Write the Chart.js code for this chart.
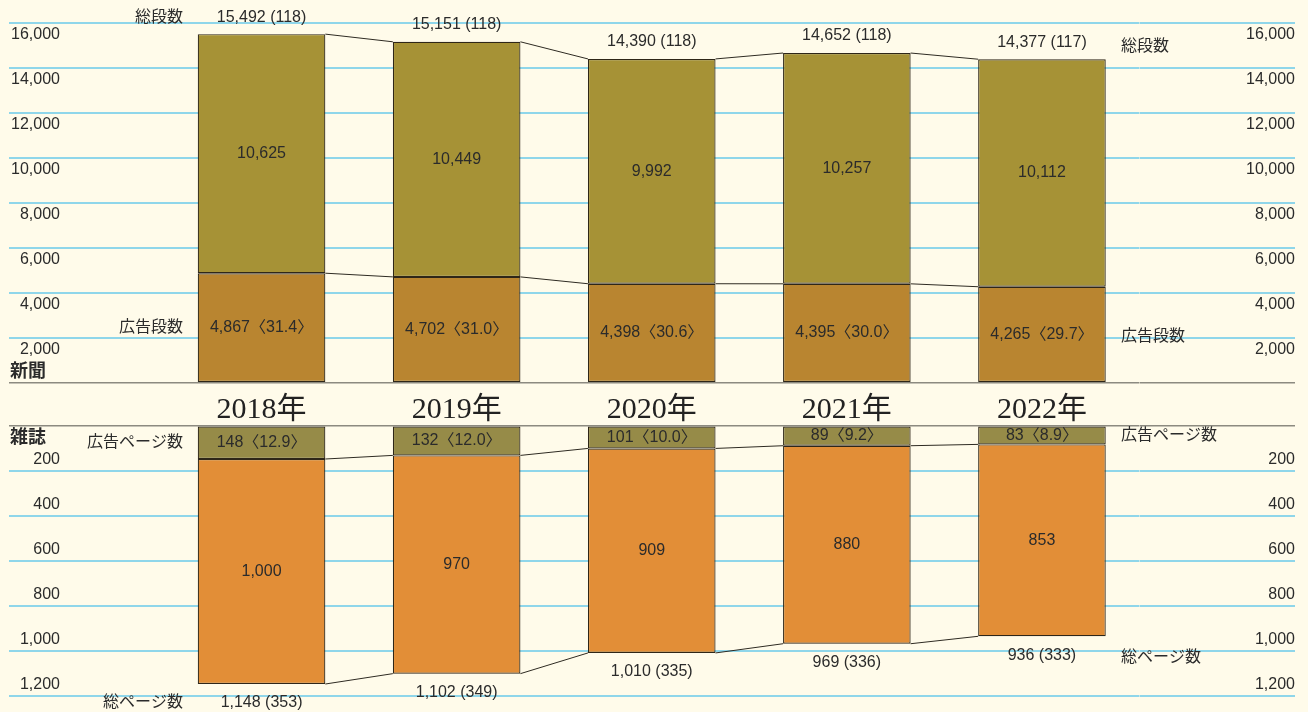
<!DOCTYPE html>
<html lang="ja">
<head>
<meta charset="utf-8">
<title>新聞・雑誌の広告量推移</title>
<script src="https://cdn.jsdelivr.net/npm/chart.js@4.4.1/dist/chart.umd.min.js"></script>
<style>
  html, body { margin: 0; padding: 0; background: #fffbea; }
  #wrap { position: relative; width: 1308px; height: 712px; }
  #wrap canvas { position: absolute; left: 0; top: 0; }
</style>
</head>
<body>
<div id="wrap">
  <canvas id="paperChart" width="1308" height="712"></canvas>
  <canvas id="magChart" width="1308" height="712"></canvas>
</div>
<script>
const years = ['2018年', '2019年', '2020年', '2021年', '2022年'];

// 新聞（段数）
const paperAdCols = [4867, 4702, 4398, 4395, 4265];
const paperOtherCols = [10625, 10449, 9992, 10257, 10112];
const paperAdShare = [31.4, 31.0, 30.6, 30.0, 29.7];
const paperTitles = [118, 118, 118, 118, 117];
const paperTicks = [0, 2000, 4000, 6000, 8000, 10000, 12000, 14000, 16000];

// 雑誌（ページ数）
const magAdPages = [148, 132, 101, 89, 83];
const magOtherPages = [1000, 970, 909, 880, 853];
const magAdShare = [12.9, 12.0, 10.0, 9.2, 8.9];
const magTitles = [353, 349, 335, 336, 333];
const magTicks = [0, 200, 400, 600, 800, 1000, 1200];

const SANS = '"Liberation Sans", "Noto Sans CJK JP", sans-serif';
const SERIF = '"Liberation Serif", "Noto Sans CJK JP", serif';
const TEXT = '#2b2b2b';
const GRID = '#8fd6ea';
const RULE = '#8c8a80';

Chart.defaults.font.family = SANS;
Chart.defaults.color = TEXT;

const fmt = n => n.toLocaleString('en-US');

function valueAxis(position, ticks, labelOffset, reverse) {
  const left = position === 'left';
  const w = left ? 155 : 155.5;
  return {
    type: 'linear',
    position,
    stacked: left,
    reverse,
    min: ticks[0],
    max: ticks[ticks.length - 1],
    afterBuildTicks: s => { s.ticks = ticks.map(v => ({ value: v })); },
    afterFit: s => { s.width = w; },
    border: { display: false },
    grid: {
      drawOnChartArea: left,
      tickLength: w,
      color: c => (c.tick && c.tick.value === 0 ? RULE : GRID),
      lineWidth: c => (c.tick && c.tick.value === 0 ? 1.5 : 2)
    },
    ticks: {
      padding: left ? -51 : 0,
      crossAlign: left ? 'near' : 'far',
      labelOffset,
      font: { size: 16 },
      callback: v => (v === 0 ? '' : fmt(v))
    }
  };
}

function seg(ctx, x1, y1, x2, y2) {
  ctx.beginPath();
  ctx.moveTo(x1, y1);
  ctx.lineTo(x2, y2);
  ctx.stroke();
}

function text(ctx, str, x, y, align, font) {
  ctx.font = font || '16px ' + SANS;
  ctx.textAlign = align || 'center';
  ctx.textBaseline = 'middle';
  ctx.fillStyle = TEXT;
  ctx.fillText(str, x, y);
}

// lines joining neighbouring bars at the stack boundaries
function connectors(ctx, bars) {
  ctx.strokeStyle = '#2e2a22';
  ctx.lineWidth = 1;
  for (let i = 0; i < bars.length - 1; i++) {
    const a = bars[i], b = bars[i + 1];
    seg(ctx, a.x + a.width / 2, a.y, b.x - b.width / 2, b.y);
  }
}

const paperLabels = {
  id: 'paperLabels',
  afterDatasetsDraw(chart) {
    const ctx = chart.ctx;
    const ad = chart.getDatasetMeta(0).data;
    const other = chart.getDatasetMeta(1).data;
    ctx.save();
    connectors(ctx, ad);
    connectors(ctx, other);
    other.forEach((o, i) => {
      const a = ad[i];
      const total = paperAdCols[i] + paperOtherCols[i];
      text(ctx, fmt(paperOtherCols[i]), o.x, (o.y + o.base) / 2);
      text(ctx, fmt(paperAdCols[i]) + '〈' + paperAdShare[i].toFixed(1) + '〉', a.x, (a.y + a.base) / 2);
      text(ctx, fmt(total) + ' (' + paperTitles[i] + ')', o.x, o.y - 17);
    });
    const first = 0, last = other.length - 1;
    text(ctx, '総段数', 183, other[first].y - 17, 'right');
    text(ctx, '広告段数', 183, (ad[first].y + ad[first].base) / 2, 'right');
    text(ctx, '総段数', 1121, other[last].y - 13, 'left');
    text(ctx, '広告段数', 1121, (ad[last].y + ad[last].base) / 2 + 2, 'left');
    text(ctx, '新聞', 10, chart.chartArea.bottom - 11, 'left', 'bold 18px ' + SANS);
    ctx.restore();
  }
};

const magLabels = {
  id: 'magLabels',
  afterDatasetsDraw(chart) {
    const ctx = chart.ctx;
    const ad = chart.getDatasetMeta(0).data;
    const other = chart.getDatasetMeta(1).data;
    ctx.save();
    connectors(ctx, ad);
    connectors(ctx, other);
    other.forEach((o, i) => {
      const a = ad[i];
      const total = magAdPages[i] + magOtherPages[i];
      text(ctx, fmt(magOtherPages[i]), o.x, (o.y + o.base) / 2);
      text(ctx, fmt(magAdPages[i]) + '〈' + magAdShare[i].toFixed(1) + '〉', a.x, (a.y + a.base) / 2);
      text(ctx, fmt(total) + ' (' + magTitles[i] + ')', o.x, o.y + 19);
    });
    const first = 0, last = other.length - 1;
    text(ctx, '広告ページ数', 183, (ad[first].y + ad[first].base) / 2, 'right');
    text(ctx, '総ページ数', 183, other[first].y + 19, 'right');
    text(ctx, '広告ページ数', 1121, (ad[last].y + ad[last].base) / 2, 'left');
    text(ctx, '総ページ数', 1121, other[last].y + 21, 'left');
    text(ctx, '雑誌', 10, chart.chartArea.top + 12, 'left', 'bold 18px ' + SANS);
    ctx.restore();
  }
};

const barStyle = {
  borderColor: '#2e2618',
  borderWidth: 1.2,
  borderSkipped: false,
  barPercentage: 0.654,
  categoryPercentage: 1.0
};

new Chart(document.getElementById('paperChart'), {
  type: 'bar',
  data: {
    labels: years,
    datasets: [
      { label: '広告段数', data: paperAdCols, backgroundColor: '#b98530', ...barStyle },
      { label: '記事など', data: paperOtherCols, backgroundColor: '#a69236', ...barStyle }
    ]
  },
  options: {
    responsive: false,
    animation: false,
    layout: { padding: { left: 9, right: 13, top: 22.7, bottom: 289.3 } },
    plugins: { legend: { display: false }, tooltip: { enabled: false } },
    scales: {
      x: {
        stacked: true,
        afterFit: s => { s.height = 40; },
        grid: { display: false },
        border: { display: false },
        ticks: { padding: 1, maxRotation: 0, color: '#222', font: { family: SERIF, size: 30 } }
      },
      y: valueAxis('left', paperTicks, 12, false),
      y2: valueAxis('right', paperTicks, 12, false)
    }
  },
  plugins: [paperLabels]
});

new Chart(document.getElementById('magChart'), {
  type: 'bar',
  data: {
    labels: years,
    datasets: [
      { label: '広告ページ数', data: magAdPages, backgroundColor: '#968b48', ...barStyle },
      { label: '記事など', data: magOtherPages, backgroundColor: '#e28e37', ...barStyle }
    ]
  },
  options: {
    responsive: false,
    animation: false,
    layout: { padding: { left: 9, right: 13, top: 425.7, bottom: 16.3 } },
    plugins: { legend: { display: false }, tooltip: { enabled: false } },
    scales: {
      x: { stacked: true, display: false },
      y: valueAxis('left', magTicks, -11, true),
      y2: valueAxis('right', magTicks, -11, true)
    }
  },
  plugins: [magLabels]
});
</script>
</body>
</html>
